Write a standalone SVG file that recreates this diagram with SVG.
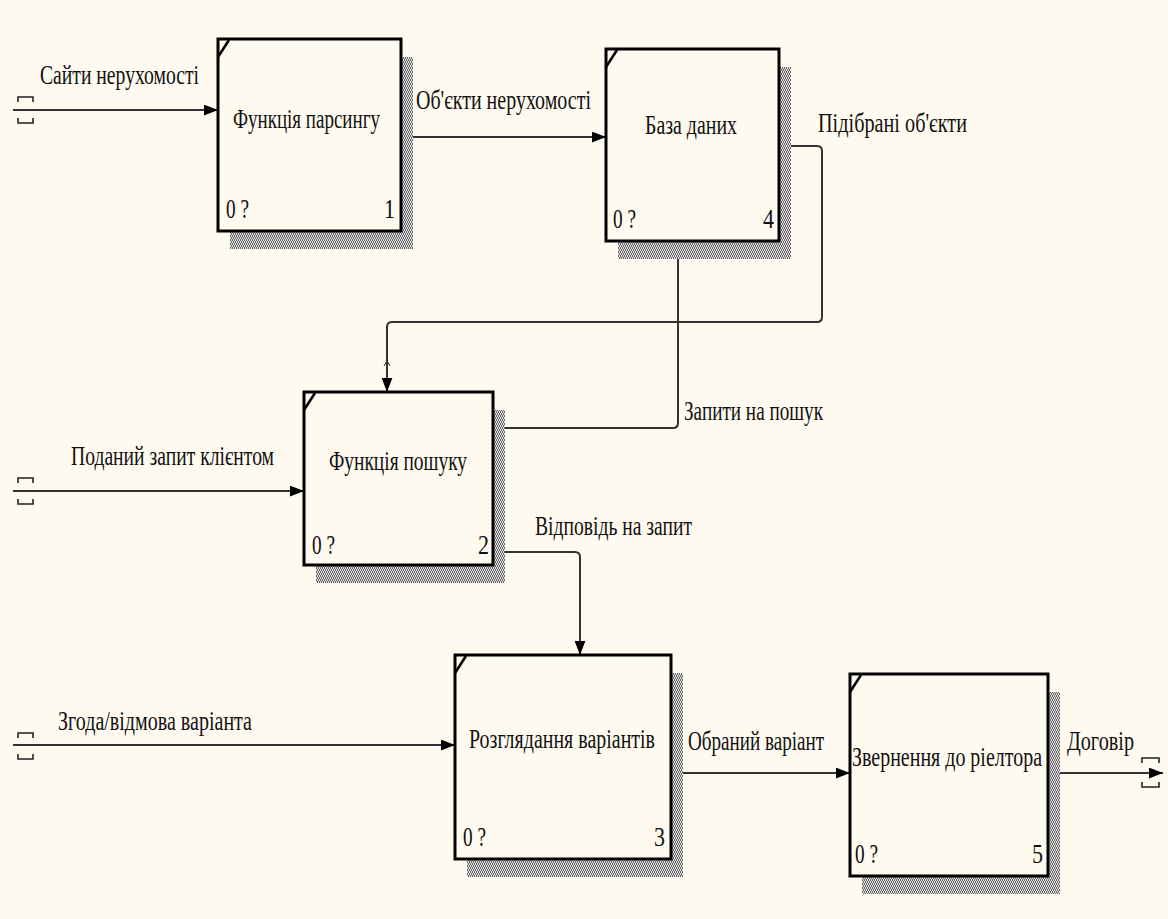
<svg xmlns="http://www.w3.org/2000/svg" width="1168" height="919" viewBox="0 0 1168 919">
<style>
.t{font-family:"Liberation Serif","Times New Roman",serif;font-size:21px;fill:#111;stroke:none;}
.box{fill:#fffaf0;stroke:#000;stroke-width:3;}
.sh{fill:url(#hatch);}
.diag{stroke:#000;stroke-width:2.5;fill:none;}
.tun{fill:none;stroke:#222;stroke-width:1.6;}
</style>
<defs>
<pattern id="hatch" width="4" height="4" patternUnits="userSpaceOnUse">
<rect width="4" height="4" fill="#e0e0e0"/>
<path d="M0 0 L2 2 L0 4 M2 0 L4 2 L2 4" stroke="#666" stroke-width="1" fill="none"/>
</pattern>
<marker id="arr" viewBox="0 0 13 10" refX="13" refY="5" markerWidth="14" markerHeight="11" markerUnits="userSpaceOnUse" orient="auto">
<path d="M0 0 L13 5 L0 10 z" fill="#000"/>
</marker>
</defs>
<rect width="1168" height="919" fill="#fffaf0"/>

<g id="connectors" fill="none" stroke="#333" stroke-width="2">
<path d="M13 110 H218" marker-end="url(#arr)"/>
<path d="M401 137 H606" marker-end="url(#arr)"/>
<path d="M779 146 H817 Q822 146 822 151 V317 Q822 322 817 322 H392 Q387 322 387 327 V392" marker-end="url(#arr)"/>
<path d="M493 428 H673 Q678 428 678 423 V242" marker-end="url(#arr)"/>
<path d="M13 491 H304" marker-end="url(#arr)"/>
<path d="M493 552 H575 Q580 552 580 557 V655" marker-end="url(#arr)"/>
<path d="M13 745 H455" marker-end="url(#arr)"/>
<path d="M671 773 H850" marker-end="url(#arr)"/>
<path d="M1048 773 H1163" marker-end="url(#arr)"/>
<path d="M384 366 L387 361 L390 366" stroke-width="1"/>
<path class="tun" d="M18 102 V97 H33 V102 M18 118 V123 H33 V118"/>
<path class="tun" d="M18 483 V478 H33 V483 M18 499 V504 H33 V499"/>
<path class="tun" d="M18 738 V733 H33 V738 M18 754 V759 H33 V754"/>
<path class="tun" d="M1142 763 V758 H1159 V763 M1142 782 V787 H1159 V782"/>
<text class="t" transform="translate(40 84) scale(1 1.29)" textLength="159" lengthAdjust="spacingAndGlyphs">Сайти нерухомості</text>
<text class="t" transform="translate(416 109) scale(1 1.29)" textLength="175" lengthAdjust="spacingAndGlyphs">Об'єкти нерухомості</text>
<text class="t" transform="translate(818 132) scale(1 1.29)" textLength="149" lengthAdjust="spacingAndGlyphs">Підібрані об'єкти</text>
<text class="t" transform="translate(684 420) scale(1 1.29)" textLength="139" lengthAdjust="spacingAndGlyphs">Запити на пошук</text>
<text class="t" transform="translate(71 465) scale(1 1.29)" textLength="203" lengthAdjust="spacingAndGlyphs">Поданий запит клієнтом</text>
<text class="t" transform="translate(535 535) scale(1 1.29)" textLength="157" lengthAdjust="spacingAndGlyphs">Відповідь на запит</text>
<text class="t" transform="translate(58 730) scale(1 1.29)" textLength="194" lengthAdjust="spacingAndGlyphs">Згода/відмова варіанта</text>
<text class="t" transform="translate(688 750) scale(1 1.29)" textLength="136" lengthAdjust="spacingAndGlyphs">Обраний варіант</text>
<text class="t" transform="translate(1067 750) scale(1 1.29)" textLength="67" lengthAdjust="spacingAndGlyphs">Договір</text>
</g>

<g id="node1">
<rect class="sh" x="230" y="57" width="183" height="192"/>
<rect class="box" x="218" y="39" width="183" height="192"/>
<path class="diag" d="M218 57 L229 40"/>
<text class="t" transform="translate(233 128) scale(1 1.29)" textLength="147" lengthAdjust="spacingAndGlyphs">Функція парсингу</text>
<text class="t" transform="translate(226 218) scale(1 1.29)" textLength="23" lengthAdjust="spacingAndGlyphs">0 ?</text>
<text class="t" transform="translate(384 218) scale(1 1.29)" textLength="11" lengthAdjust="spacingAndGlyphs">1</text>
</g>

<g id="node4">
<rect class="sh" x="618" y="67" width="173" height="192"/>
<rect class="box" x="606" y="49" width="173" height="192"/>
<path class="diag" d="M606 67 L617 50"/>
<text class="t" transform="translate(645 134) scale(1 1.29)" textLength="92" lengthAdjust="spacingAndGlyphs">База даних</text>
<text class="t" transform="translate(613 228) scale(1 1.29)" textLength="23" lengthAdjust="spacingAndGlyphs">0 ?</text>
<text class="t" transform="translate(763 228) scale(1 1.29)" textLength="11" lengthAdjust="spacingAndGlyphs">4</text>
</g>

<g id="node2">
<rect class="sh" x="316" y="410" width="189" height="173"/>
<rect class="box" x="304" y="392" width="189" height="173"/>
<path class="diag" d="M304 410 L315 393"/>
<text class="t" transform="translate(329 470) scale(1 1.29)" textLength="138" lengthAdjust="spacingAndGlyphs">Функція пошуку</text>
<text class="t" transform="translate(312 554) scale(1 1.29)" textLength="23" lengthAdjust="spacingAndGlyphs">0 ?</text>
<text class="t" transform="translate(478 554) scale(1 1.29)" textLength="11" lengthAdjust="spacingAndGlyphs">2</text>
</g>

<g id="node3">
<rect class="sh" x="467" y="673" width="216" height="204"/>
<rect class="box" x="455" y="655" width="216" height="204"/>
<path class="diag" d="M455 673 L466 656"/>
<text class="t" transform="translate(469 748) scale(1 1.29)" textLength="186" lengthAdjust="spacingAndGlyphs">Розглядання варіантів</text>
<text class="t" transform="translate(463 846) scale(1 1.29)" textLength="23" lengthAdjust="spacingAndGlyphs">0 ?</text>
<text class="t" transform="translate(654 846) scale(1 1.29)" textLength="11" lengthAdjust="spacingAndGlyphs">3</text>
</g>

<g id="node5">
<rect class="sh" x="862" y="692" width="198" height="202"/>
<rect class="box" x="850" y="674" width="198" height="202"/>
<path class="diag" d="M850 692 L861 675"/>
<text class="t" transform="translate(852 766) scale(1 1.29)" textLength="190" lengthAdjust="spacingAndGlyphs">Звернення до ріелтора</text>
<text class="t" transform="translate(855 863) scale(1 1.29)" textLength="23" lengthAdjust="spacingAndGlyphs">0 ?</text>
<text class="t" transform="translate(1032 863) scale(1 1.29)" textLength="11" lengthAdjust="spacingAndGlyphs">5</text>
</g>
</svg>
